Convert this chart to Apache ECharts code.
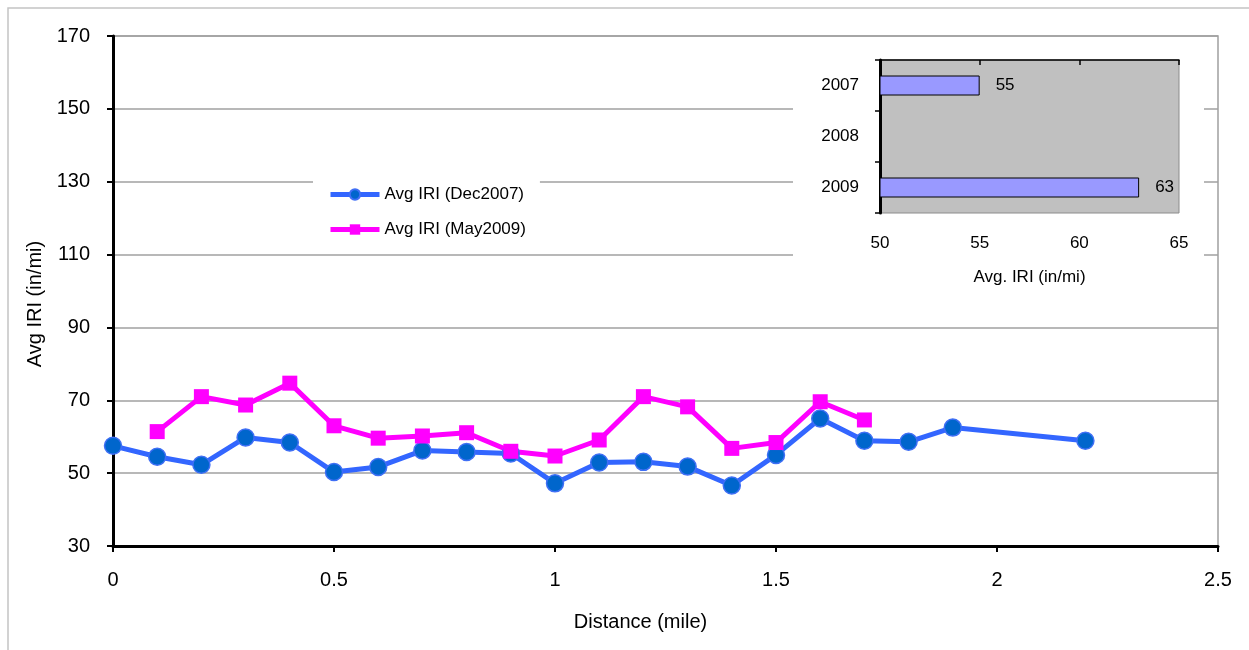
<!DOCTYPE html>
<html>
<head>
<meta charset="utf-8">
<title>Avg IRI by distance</title>
<script src="https://cdn.jsdelivr.net/npm/echarts@6/dist/echarts.min.js"></script>
<style>
  html, body { margin: 0; padding: 0; background: #fff; }
  #chart { width: 1249px; height: 650px; }
</style>
</head>
<body>
<div id="chart"></div>
<script>
// Survey readings along the section (distance in miles, IRI in in/mi)
const distanceDec2007 = [0, 0.1, 0.2, 0.3, 0.4, 0.5, 0.6, 0.7, 0.8, 0.9, 1.0, 1.1, 1.2, 1.3, 1.4, 1.5, 1.6, 1.7, 1.8, 1.9, 2.2];
const iriDec2007 = [57.5, 54.5, 52.3, 59.8, 58.4, 50.3, 51.7, 56.2, 55.8, 55.4, 47.2, 52.9, 53.1, 51.8, 46.6, 55.0, 65.0, 58.9, 58.6, 62.5, 58.9];

const distanceMay2009 = [0.1, 0.2, 0.3, 0.4, 0.5, 0.6, 0.7, 0.8, 0.9, 1.0, 1.1, 1.2, 1.3, 1.4, 1.5, 1.6, 1.7];
const iriMay2009 = [61.4, 71.0, 68.7, 74.7, 63.0, 59.6, 60.2, 61.1, 56.0, 54.7, 59.1, 71.0, 68.2, 56.8, 58.4, 69.6, 64.6];

// Section averages per survey year
const surveyYears = ['2007', '2008', '2009'];
const yearAverage = [55, null, 63];

const FONT = 'Liberation Sans, Arial, sans-serif';

const pairs = (xs, ys) => xs.map((x, i) => [x, ys[i]]);

const chart = echarts.init(document.getElementById('chart'), null, { renderer: 'canvas' });

chart.setOption({
  animation: false,
  backgroundColor: '#fff',
  textStyle: { fontFamily: FONT, color: '#000' },
  graphic: [
    {
      type: 'rect',
      z: 0,
      shape: { x: 8, y: 8, width: 1260, height: 660 },
      style: { fill: 'none', stroke: '#c4c4c4', lineWidth: 1.5 }
    },
    {
      // white panel behind the inset chart
      type: 'rect',
      z: 1,
      shape: { x: 793, y: 40, width: 411, height: 256 },
      style: { fill: '#fff' }
    }
  ],
  legend: {
    orient: 'vertical',
    left: 313,
    top: 173,
    padding: [13, 14, 13, 15],
    itemGap: 18,
    itemWidth: 49,
    itemHeight: 13,
    backgroundColor: '#fff',
    lineStyle: { width: 5 },
    textStyle: { fontFamily: FONT, fontSize: 17, color: '#000' },
    data: ['Avg IRI (Dec2007)', 'Avg IRI (May2009)']
  },
  grid: [
    {
      left: 113, top: 36, right: 31, bottom: 104,
      show: true, borderColor: '#a0a0a0', borderWidth: 1.5,
      backgroundColor: 'transparent'
    },
    {
      left: 880, top: 60, width: 299, height: 153,
      show: true, z: 2, backgroundColor: '#c0c0c0',
      borderColor: '#8c8c8c', borderWidth: 1
    }
  ],
  xAxis: [
    {
      gridIndex: 0,
      type: 'value',
      min: 0, max: 2.5, interval: 0.5,
      name: 'Distance (mile)',
      nameLocation: 'middle',
      nameGap: 66,
      nameTextStyle: { fontFamily: FONT, fontSize: 20, color: '#000', padding: [0, 50, 0, 0] },
      axisLine: { show: true, onZero: false, lineStyle: { color: '#000', width: 3 } },
      axisTick: { show: true, length: 6, lineStyle: { color: '#000', width: 2 } },
      axisLabel: { fontFamily: FONT, fontSize: 20, color: '#000', margin: 24 },
      splitLine: { show: false }
    },
    {
      gridIndex: 1,
      type: 'value',
      position: 'bottom',
      min: 50, max: 65, interval: 5,
      z: 3,
      name: 'Avg. IRI (in/mi)',
      nameLocation: 'middle',
      nameGap: 56,
      nameTextStyle: { fontFamily: FONT, fontSize: 17, color: '#000' },
      axisLine: { show: false },
      axisTick: { show: false },
      axisLabel: { fontFamily: FONT, fontSize: 17, color: '#000', margin: 22 },
      splitLine: { show: false }
    },
    {
      gridIndex: 1,
      type: 'value',
      position: 'top',
      min: 50, max: 65, interval: 5,
      z: 3,
      axisLine: { show: true, onZero: false, lineStyle: { color: '#000', width: 1.5 } },
      axisTick: { show: true, inside: true, length: 5, lineStyle: { color: '#000', width: 1.5 } },
      axisLabel: { show: false },
      splitLine: { show: false }
    }
  ],
  yAxis: [
    {
      gridIndex: 0,
      type: 'value',
      min: 30, max: 170, interval: 20,
      name: 'Avg IRI (in/mi)',
      nameLocation: 'middle',
      nameGap: 66,
      nameTextStyle: { fontFamily: FONT, fontSize: 20, color: '#000', padding: [0, 26, 0, 0] },
      axisLine: { show: true, onZero: false, lineStyle: { color: '#000', width: 3 } },
      axisTick: { show: true, length: 6, lineStyle: { color: '#000', width: 2 } },
      axisLabel: { fontFamily: FONT, fontSize: 20, color: '#000', margin: 23 },
      splitLine: { show: true, lineStyle: { color: '#a0a0a0', width: 1.5 } }
    },
    {
      gridIndex: 1,
      type: 'category',
      inverse: true,
      data: surveyYears,
      z: 3,
      axisLine: { show: true, onZero: false, lineStyle: { color: '#000', width: 3 } },
      axisTick: { show: true, length: 5, lineStyle: { color: '#000', width: 1.5 } },
      axisLabel: { fontFamily: FONT, fontSize: 17, color: '#000', margin: 21 },
      splitLine: { show: false }
    }
  ],
  series: [
    {
      name: 'Avg IRI (Dec2007)',
      type: 'line',
      xAxisIndex: 0, yAxisIndex: 0,
      data: pairs(distanceDec2007, iriDec2007),
      symbol: 'circle',
      symbolSize: 17,
      lineStyle: { color: '#3366ff', width: 5 },
      itemStyle: { color: '#0066cc', borderColor: '#3f6ff5', borderWidth: 1.5 },
      emphasis: { disabled: true },
      z: 2
    },
    {
      name: 'Avg IRI (May2009)',
      type: 'line',
      xAxisIndex: 0, yAxisIndex: 0,
      data: pairs(distanceMay2009, iriMay2009),
      symbol: 'rect',
      symbolSize: 15,
      lineStyle: { color: '#ff00ff', width: 5 },
      itemStyle: { color: '#ff00ff' },
      emphasis: { disabled: true },
      z: 2
    },
    {
      name: 'Section average',
      type: 'bar',
      xAxisIndex: 1, yAxisIndex: 1,
      data: yearAverage,
      barWidth: 20,
      z: 4,
      itemStyle: { color: '#9999ff', borderColor: '#000', borderWidth: 1 },
      label: {
        show: true,
        position: 'right',
        distance: 16,
        fontFamily: FONT,
        fontSize: 17,
        color: '#000'
      },
      emphasis: { disabled: true }
    }
  ]
});
</script>
</body>
</html>
